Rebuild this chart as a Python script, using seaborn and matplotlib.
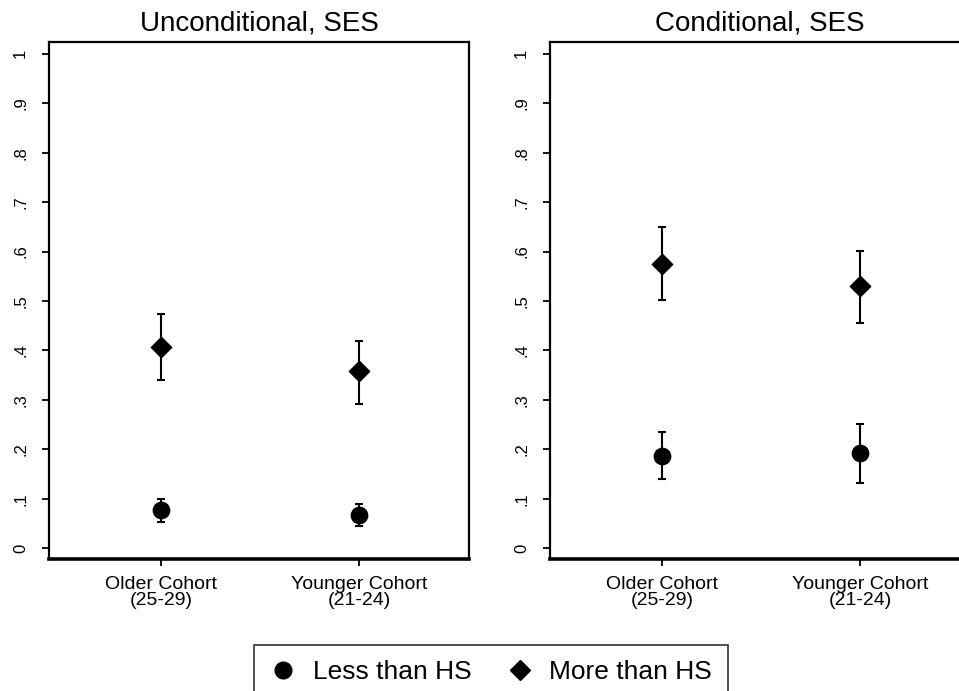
import pandas as pd
import matplotlib
matplotlib.use('Agg')
import matplotlib.pyplot as plt
import seaborn as sns
from matplotlib.lines import Line2D

# Data
cohorts = ['Older Cohort\n(25-29)', 'Younger Cohort\n(21-24)']
groups = ['Less than HS', 'More than HS']
panels = ['Unconditional, SES', 'Conditional, SES']

# estimates and CI bounds: [panel][group][cohort]
est = {
    'Unconditional, SES': {'Less than HS': [0.078, 0.068], 'More than HS': [0.406, 0.358]},
    'Conditional, SES': {'Less than HS': [0.187, 0.192], 'More than HS': [0.574, 0.530]},
}
ci_lo = {
    'Unconditional, SES': {'Less than HS': [0.052, 0.044], 'More than HS': [0.341, 0.291]},
    'Conditional, SES': {'Less than HS': [0.140, 0.132], 'More than HS': [0.503, 0.455]},
}
ci_hi = {
    'Unconditional, SES': {'Less than HS': [0.100, 0.089], 'More than HS': [0.473, 0.420]},
    'Conditional, SES': {'Less than HS': [0.234, 0.251], 'More than HS': [0.650, 0.601]},
}

yticks = [0, 0.1, 0.2, 0.3, 0.4, 0.5, 0.6, 0.7, 0.8, 0.9, 1.0]
ytick_labels = ['0', '.1', '.2', '.3', '.4', '.5', '.6', '.7', '.8', '.9', '1']

rows = []
for p in panels:
    for g in groups:
        for i, c in enumerate(cohorts):
            rows.append({'panel': p, 'group': g, 'cohort': c,
                         'est': est[p][g][i], 'lo': ci_lo[p][g][i], 'hi': ci_hi[p][g][i]})
df = pd.DataFrame(rows)

sns.set_style('white')
plt.rcParams['font.family'] = ['Liberation Sans', 'DejaVu Sans']
plt.rcParams['text.color'] = 'black'
plt.rcParams['xtick.color'] = 'black'
plt.rcParams['ytick.color'] = 'black'

W, H = 959, 691
fig = plt.figure(figsize=(W / 100, H / 100), dpi=100)

lefts = [49, 550]
for p, left in zip(panels, lefts):
    ax = fig.add_axes([left / W, (H - 559) / H, 420 / W, (559 - 42) / H])
    sub = df[df['panel'] == p]
    # error bars first, markers on top
    for g in groups:
        s = sub[sub['group'] == g]
        ax.errorbar(s['cohort'], s['est'],
                    yerr=[s['est'] - s['lo'], s['hi'] - s['est']],
                    fmt='none', ecolor='black', elinewidth=1.5,
                    capsize=3, capthick=1.5, zorder=2)
    sns.scatterplot(data=sub[sub['group'] == 'Less than HS'], x='cohort', y='est',
                    marker='o', color='black', edgecolor='black',
                    s=140, legend=False, ax=ax, zorder=3)
    sns.scatterplot(data=sub[sub['group'] == 'More than HS'], x='cohort', y='est',
                    marker='D', color='black', edgecolor='black',
                    s=110, legend=False, ax=ax, zorder=3)
    ax.set_xlim(-0.567, 1.556)
    ax.set_ylim(-0.022, 1.024)
    ax.set_yticks(yticks)
    ax.set_yticklabels(ytick_labels, rotation=90, va='center', fontsize=12)
    ax.tick_params(axis='y', length=5, width=1.3, pad=10, color='black', left=True)
    ax.tick_params(axis='x', length=5, width=1.3, pad=7, color='black', bottom=True,
                   labelsize=14)
    for lbl in ax.get_xticklabels():
        lbl.set_linespacing(0.92)
    ax.set_xlabel('')
    ax.set_ylabel('')
    ax.set_title(p, fontsize=20, pad=8, color='black')
    for side in ['left', 'top', 'right']:
        ax.spines[side].set_color('black')
        ax.spines[side].set_linewidth(1.6)
    ax.spines['bottom'].set_color('black')
    ax.spines['bottom'].set_linewidth(2.6)

handles = [Line2D([], [], marker='o', color='black', linestyle='none', markersize=12),
           Line2D([], [], marker='D', color='black', linestyle='none', markersize=10.5)]
leg = fig.legend(handles, groups, loc='lower center', bbox_to_anchor=(491 / W, -0.0135),
                 ncol=2, fontsize=19, frameon=True, fancybox=False,
                 edgecolor='black', handletextpad=0.6, columnspacing=1.35,
                 borderpad=0.6, handlelength=1.0, borderaxespad=0.0)
leg.get_frame().set_linewidth(1.2)

fig.savefig('out.png', dpi=100, facecolor='white')
